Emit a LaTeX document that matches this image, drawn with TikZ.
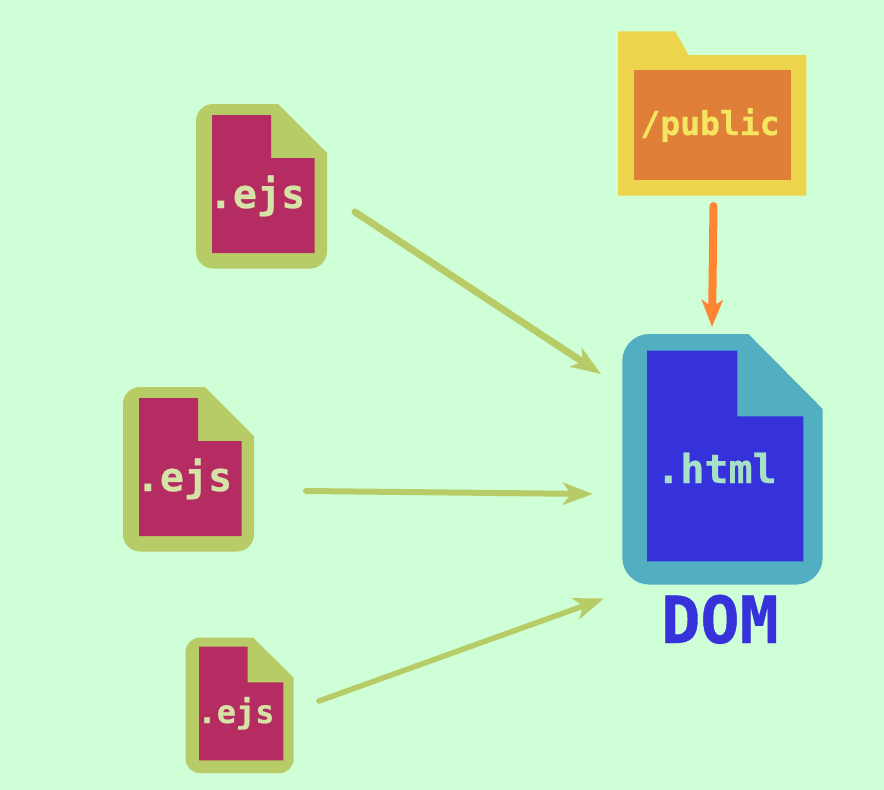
\documentclass[tikz,border=0pt]{standalone}
\usepackage{fontspec}
\setmonofont[FakeBold=0.6]{DejaVu Sans Mono}
\usetikzlibrary{arrows.meta}
\definecolor{bgc}{HTML}{CFFFD6}
\definecolor{olive}{HTML}{B7CC66}
\definecolor{mag}{HTML}{B52C63}
\definecolor{ejstxt}{HTML}{D6E2A6}
\definecolor{blu}{HTML}{3632DB}
\definecolor{teal2}{HTML}{52AFC2}
\definecolor{htmltxt}{HTML}{A6E0C8}
\definecolor{yel}{HTML}{ECD44C}
\definecolor{ora}{HTML}{E07F38}
\definecolor{pubtxt}{HTML}{F4E660}
\definecolor{aora}{HTML}{FF8532}
\tikzset{
  label text/.style={font=\ttfamily\bfseries\fontsize{#1}{#1}\selectfont,inner sep=0pt,anchor=base},
  olive arrow/.style={draw=olive,line cap=round,-{Stealth[length=30pt,width=22pt,inset=8pt]}},
  orange arrow/.style={draw=aora,line cap=round,-{Stealth[length=27pt,width=21pt,inset=7pt]}},
}
\begin{document}
\begin{tikzpicture}[x=1pt,y=-1pt]
\useasboundingbox (0,0) rectangle (884,790);
\fill[bgc] (0,0) rectangle (884,790);
% file one
\fill[olive] (278,104) [rounded corners=17pt] -- (196,104) -- (196,268.5) -- (327,268.5) -- (327,200) [sharp corners] -- (327,153) -- cycle;
\fill[mag] (212,115) -- (271,115) -- (271,158) -- (314.5,158) -- (314.5,253) -- (212,253) -- cycle;
\node[label text=40,text=ejstxt] (ejsa) at (257,208) {.ejs};
% file two
\fill[olive] (205,387) [rounded corners=17pt] -- (123,387) -- (123,551.5) -- (254,551.5) -- (254,483) [sharp corners] -- (254,436) -- cycle;
\fill[mag] (139,398) -- (198,398) -- (198,441) -- (241.5,441) -- (241.5,536) -- (139,536) -- cycle;
\node[label text=40,text=ejstxt] (ejsb) at (184,491) {.ejs};
% file three
\fill[olive] (253.3,637.7) [rounded corners=14pt] -- (185.7,637.7) -- (185.7,773) -- (293.7,773) -- (293.7,720) [sharp corners] -- (293.7,677.7) -- cycle;
\fill[mag] (199,646.7) -- (247.7,646.7) -- (247.7,682.3) -- (283.3,682.3) -- (283.3,760.3) -- (199,760.3) -- cycle;
\node[label text=32,text=ejstxt] (ejsc) at (236,723) {.ejs};
% folder
\fill[yel] (618,31.3) -- (675,31.3) -- (688.7,55) -- (806.3,55) -- (806.3,195.7) -- (618,195.7) -- cycle;
\fill[ora] (634,70.3) -- (790.7,70.3) -- (790.7,180) -- (634,180) -- cycle;
\node[label text=33,text=pubtxt] (pub) at (710,135) {/public};
% html file
\fill[teal2] (748.3,334) [rounded corners=27pt] -- (622.3,334) -- (622.3,584.6) -- (822.7,584.6) -- (822.7,480) [sharp corners] -- (822.7,409) -- cycle;
\fill[blu] (647,350.7) -- (737.3,350.7) -- (737.3,416.3) -- (803.3,416.3) -- (803.3,561.3) -- (647,561.3) -- cycle;
\node[label text=40,text=htmltxt] (html) at (716.5,483) {.html};
\node[label text=65,text=blu] (dom) at (720,643) {DOM};
% connectors
\coordinate (a1) at (355,212); \coordinate (a2) at (601,374);
\coordinate (b1) at (306,491); \coordinate (b2) at (593,494);
\coordinate (c1) at (319,701); \coordinate (c2) at (604,598.5);
\coordinate (d1) at (713.5,206); \coordinate (d2) at (712,327);
\draw[olive arrow,line width=7pt] (a1) -- (a2);
\draw[olive arrow,line width=6pt] (b1) -- (b2);
\draw[olive arrow,line width=5.5pt] (c1) -- (c2);
\draw[orange arrow,line width=8pt] (d1) -- (d2);
\end{tikzpicture}
\end{document}
